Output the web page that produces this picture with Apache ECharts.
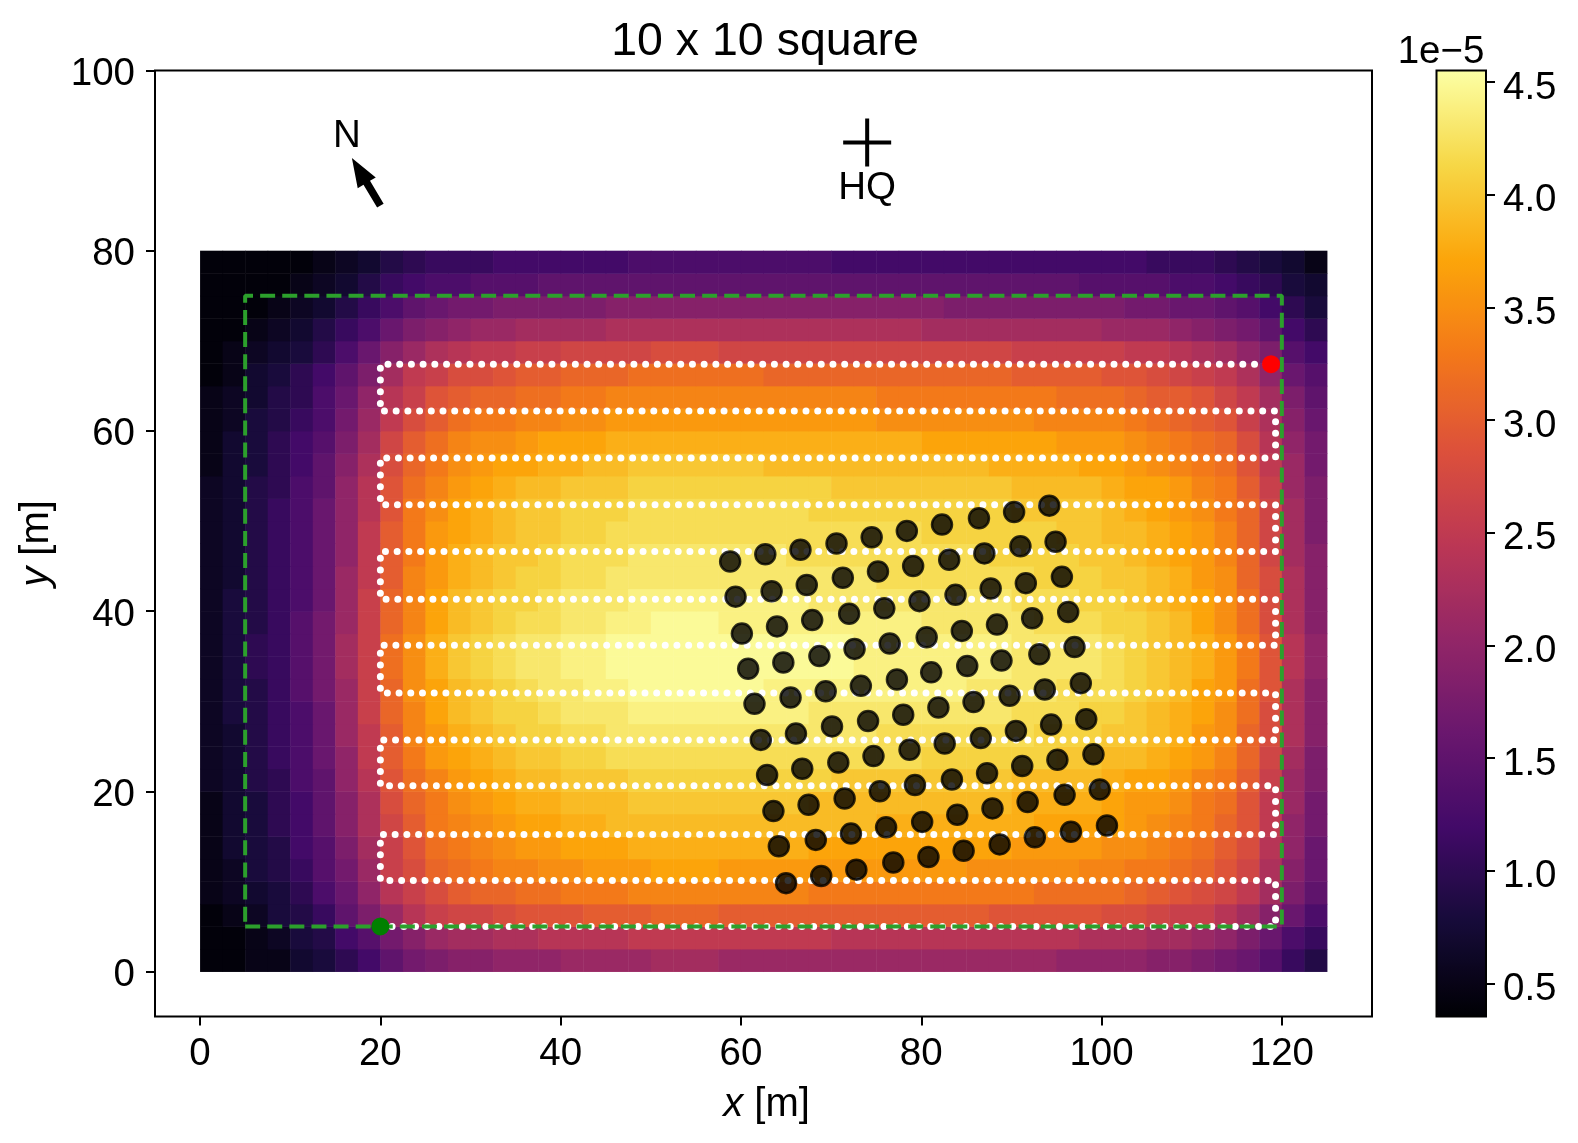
<!DOCTYPE html>
<html lang="en">
<head>
    <meta charset="utf-8">
    <title>10 x 10 square</title>
    <script src="https://cdn.jsdelivr.net/npm/echarts@6/dist/echarts.min.js"></script>
    <style>
        html, body { margin: 0; padding: 0; background: #fff; }
        #main { width: 1578px; height: 1143px; }
    </style>
</head>
<body>
<div id="main"></div>
<script>
// field, bottom row first, in tenths of 1e-5, 2.5 m cells
var fieldRows = [
[4,4,5,5,7,8,10,12,15,17,18,19,19,20,20,20,21,21,21,21,22,22,22,21,21,21,21,21,21,21,21,21,21,21,21,21,21,21,20,20,20,20,19,19,18,17,16,14,11,9],
[4,4,5,6,8,9,12,14,17,19,21,22,22,23,23,24,24,24,24,25,25,25,25,25,25,25,25,25,24,24,24,24,24,24,24,24,24,24,24,23,23,23,22,22,21,20,18,16,13,11],
[4,5,6,8,9,11,15,18,21,24,26,27,27,28,29,29,29,30,30,30,31,31,31,30,30,30,30,30,30,30,30,30,30,30,30,29,29,29,29,29,28,28,27,26,26,24,22,19,16,13],
[5,6,7,8,10,13,16,20,24,26,28,30,31,31,32,32,33,33,33,34,34,34,34,34,34,34,34,33,33,33,33,33,33,33,33,33,33,32,32,32,32,31,30,29,28,27,25,22,18,15],
[5,6,8,9,11,14,17,21,26,28,31,32,33,34,34,35,35,36,36,36,37,37,37,36,36,36,36,36,36,36,36,36,36,36,35,35,35,35,35,34,34,33,33,32,31,29,27,23,19,16],
[5,7,8,9,12,14,18,22,26,29,32,33,34,35,36,36,37,37,37,38,38,38,38,38,38,38,38,37,37,37,37,37,37,37,37,37,36,36,36,36,35,35,34,33,32,30,28,24,20,16],
[5,7,8,10,12,15,19,23,27,30,33,34,35,36,37,37,38,38,39,39,39,39,39,39,39,39,39,39,39,39,38,38,38,38,38,38,38,37,37,37,37,36,35,34,33,31,29,25,20,17],
[5,7,8,10,12,15,19,23,28,31,33,35,36,37,38,38,39,39,39,40,40,40,40,40,40,40,40,39,39,39,39,39,39,39,39,39,38,38,38,38,37,36,36,35,33,32,29,25,21,17],
[6,7,9,10,13,15,20,24,29,32,34,36,37,38,39,39,40,40,40,41,41,41,41,41,41,41,41,41,40,40,40,40,40,40,40,40,39,39,39,39,38,37,37,36,34,33,30,26,21,18],
[6,7,9,11,13,16,20,25,30,33,36,37,38,39,40,40,41,41,42,42,42,42,42,42,42,42,42,42,42,42,42,42,41,41,41,41,41,41,40,40,39,39,38,37,36,34,31,27,22,18],
[6,7,9,11,13,16,21,25,30,34,36,38,39,40,41,41,42,42,43,43,43,43,43,43,43,43,43,43,43,43,42,42,42,42,42,42,42,41,41,41,40,40,39,38,36,35,31,28,23,19],
[6,8,9,11,13,16,21,26,31,34,37,39,40,41,41,42,43,43,43,44,44,44,44,44,44,44,44,43,43,43,43,43,43,43,43,43,42,42,42,41,41,40,39,38,37,35,32,28,23,19],
[6,8,9,11,14,17,21,26,31,35,37,39,40,41,42,43,43,44,44,45,45,45,45,45,45,44,44,44,44,44,44,44,44,44,43,43,43,43,42,42,42,41,40,39,37,36,32,29,23,19],
[6,8,10,11,14,17,22,26,32,35,38,40,41,42,43,43,44,44,45,45,45,45,45,45,45,45,45,45,45,44,44,44,44,44,44,44,43,43,43,43,42,41,40,39,38,36,33,29,24,20],
[6,8,10,11,14,17,22,26,32,35,38,40,41,42,43,43,44,44,45,45,45,45,45,45,45,45,45,45,45,44,44,44,44,44,44,44,43,43,43,43,42,41,40,39,38,36,33,29,24,20],
[6,8,9,11,14,17,21,26,31,34,37,39,40,41,42,42,43,43,44,44,45,45,45,44,44,44,44,44,44,44,44,44,43,43,43,43,43,42,42,42,41,41,40,39,37,35,32,28,23,19],
[6,8,9,11,13,16,21,26,31,34,37,39,40,41,41,42,43,43,43,44,44,44,44,44,44,44,44,43,43,43,43,43,43,43,43,43,42,42,42,41,41,40,39,38,37,35,32,28,23,19],
[6,7,9,11,13,16,21,25,30,34,36,38,39,40,41,41,42,42,43,43,43,43,43,43,43,43,43,43,43,43,42,42,42,42,42,42,42,41,41,41,40,40,39,38,36,35,31,28,23,19],
[6,7,9,11,13,16,20,25,30,33,36,38,39,40,40,41,42,42,42,43,43,43,43,43,43,43,42,42,42,42,42,42,42,42,42,41,41,41,41,40,40,39,38,37,36,34,31,27,22,19],
[6,7,9,11,13,16,20,25,30,33,36,37,38,39,40,40,41,41,42,42,42,42,42,42,42,42,42,42,42,42,42,42,41,41,41,41,41,41,40,40,39,39,38,37,36,34,31,27,22,18],
[6,7,9,11,13,16,20,24,29,33,35,37,38,39,40,40,41,41,41,42,42,42,42,42,42,42,42,41,41,41,41,41,41,41,41,41,40,40,40,40,39,38,37,36,35,33,31,27,22,18],
[6,7,9,10,13,15,20,24,29,32,34,36,37,38,39,39,40,40,40,41,41,41,41,41,41,41,41,41,40,40,40,40,40,40,40,40,39,39,39,39,38,37,37,36,34,33,30,26,21,18],
[5,7,8,10,12,15,19,23,28,31,33,35,36,37,37,38,38,39,39,40,40,40,40,40,40,39,39,39,39,39,39,39,39,39,39,38,38,38,38,37,37,36,35,34,33,32,29,25,21,17],
[5,7,8,10,12,14,18,22,27,30,32,34,35,35,36,37,37,37,38,38,38,38,38,38,38,38,38,38,38,38,38,38,37,37,37,37,37,37,36,36,36,35,34,33,32,31,28,24,20,17],
[5,6,8,9,11,13,17,21,25,28,30,32,33,33,34,34,35,35,36,36,36,36,36,36,36,36,36,36,36,36,35,35,35,35,35,35,35,34,34,34,34,33,32,31,30,29,26,23,19,16],
[5,6,7,9,10,13,16,20,24,26,29,30,31,31,32,32,33,33,34,34,34,34,34,34,34,34,34,34,34,34,33,33,33,33,33,33,33,33,32,32,32,31,30,30,29,27,25,22,18,15],
[4,5,7,8,10,12,15,18,22,25,26,28,28,29,30,30,31,31,31,32,32,32,32,32,32,31,31,31,31,31,31,31,31,31,31,31,30,30,30,30,29,29,28,27,26,25,23,20,16,14],
[4,5,6,7,8,10,13,16,19,21,23,24,25,25,26,26,27,27,27,27,28,28,28,27,27,27,27,27,27,27,27,27,27,27,27,27,26,26,26,26,26,25,25,24,23,22,20,18,14,12],
[4,4,5,6,7,9,11,13,16,18,19,20,21,21,22,22,22,22,23,23,23,23,23,23,23,23,23,23,23,23,23,23,22,22,22,22,22,22,22,22,21,21,21,20,19,18,17,15,12,10],
[4,4,4,5,6,7,9,11,13,15,16,17,17,18,18,18,18,18,19,19,19,19,19,19,19,19,19,19,19,19,19,19,19,18,18,18,18,18,18,18,18,17,17,16,16,15,14,12,10,8],
[4,4,4,4,5,6,7,9,11,12,13,13,14,14,14,15,15,15,15,15,15,15,15,15,15,15,15,15,15,15,15,15,15,15,15,15,15,15,15,14,14,14,14,13,13,12,11,10,8,7],
[4,4,4,4,4,5,6,7,9,10,11,11,11,12,12,12,12,12,12,13,13,13,13,13,13,13,13,13,12,12,12,12,12,12,12,12,12,12,12,12,12,12,11,11,11,10,9,8,7,5]
];
var cellSize = 2.5;

// survey path, corners only
var pathX = [20, 119.3, 119.3, 20, 20, 119.3, 119.3, 20, 20, 119.3, 119.3, 20, 20, 119.3, 119.3, 20, 20, 119.3, 119.3, 20, 20, 119.3, 119.3, 20, 20, 118.8];
var pathY = [5, 5, 10.1, 10.1, 15.2, 15.2, 20.6, 20.6, 25.7, 25.7, 30.9, 30.9, 36.2, 36.2, 41.3, 41.3, 46.6, 46.6, 51.8, 51.8, 57, 57, 62.2, 62.2, 67.4, 67.4];

// boundary
var boxX = [5, 120, 120, 5, 5];
var boxY = [5, 5, 75, 75, 5];

// turbines
var blackX = [
65.0,68.9,72.8,76.9,80.8,84.7,88.7,92.6,96.6,100.6,
64.2,68.3,72.2,76.1,80.1,84.0,87.9,91.8,95.9,99.8,
63.6,67.5,71.5,75.4,79.3,83.4,87.3,91.2,95.1,99.1,
62.9,66.8,70.8,74.7,78.7,82.6,86.6,90.5,94.4,98.3,
62.2,66.1,70.1,74.1,78.0,81.9,85.8,89.8,93.7,97.7,
61.5,65.5,69.4,73.3,77.3,81.1,85.1,88.9,93.1,97.0,
60.8,64.7,68.7,72.6,76.5,80.6,84.5,88.4,92.3,96.3,
60.1,64.0,67.9,72.0,75.9,79.8,83.8,87.7,91.6,95.6,
59.4,63.4,67.3,71.3,75.2,79.1,83.1,87.0,91.0,94.9,
58.8,62.7,66.6,70.6,74.5,78.4,82.3,86.4,90.3,94.2
];
var blackY = [
9.8,10.6,11.3,12.1,12.7,13.4,14.1,14.9,15.5,16.2,
13.9,14.6,15.3,16.0,16.6,17.4,18.1,18.8,19.6,20.2,
17.8,18.5,19.2,20.0,20.7,21.3,22.0,22.8,23.5,24.1,
21.8,22.5,23.2,23.9,24.6,25.3,25.9,26.7,27.4,28.0,
25.7,26.4,27.2,27.8,28.5,29.3,29.9,30.6,31.3,32.0,
29.7,30.4,31.1,31.7,32.4,33.2,33.9,34.5,35.2,36.0,
33.6,34.3,35.0,35.8,36.4,37.1,37.8,38.5,39.2,39.9,
37.5,38.3,39.0,39.7,40.3,41.1,41.8,42.5,43.1,43.8,
41.6,42.2,42.9,43.7,44.4,45.0,45.7,46.4,47.2,47.7,
45.5,46.3,46.8,47.5,48.2,48.9,49.6,50.3,51.0,51.7
];

var startPoint = [20, 5];
var endPoint = [118.8, 67.4];
var hqPoint = [74, 92];
var hqLabelPoint = [74, 86.9];
var northLabelPoint = [16.3, 92.7];
var northArrow = [20, 85, 16.84, 90.3];

var xTicks = [0, 20, 40, 60, 80, 100, 120];
var yTicks = [0, 20, 40, 60, 80, 100];
var barTicks = [0.5, 1, 1.5, 2, 2.5, 3, 3.5, 4, 4.5];
var barMin = 0.353;
var barMax = 4.552;
var inferno = ['#000004', '#160b39', '#420a68', '#6a176e', '#932667', '#bc3754', '#dd513a', '#f37819', '#fca50a', '#f6d746', '#fcffa4'];

var FONT = '"Liberation Sans", Arial, sans-serif';

function zip(xs, ys) {
    return xs.map(function (x, i) { return [x, ys[i]]; });
}

var heatData = [];
fieldRows.forEach(function (row, r) {
    row.forEach(function (v, c) {
        heatData.push([c * cellSize, r * cellSize, v / 10]);
    });
});

function renderCell(params, api) {
    var x0 = api.value(0), y0 = api.value(1);
    var a = api.coord([x0, y0]);
    var b = api.coord([x0 + cellSize, y0 + cellSize]);
    return {
        type: 'rect',
        shape: { x: a[0], y: b[1], width: b[0] - a[0] + 0.5, height: a[1] - b[1] + 0.5 },
        style: { fill: api.visual('color') }
    };
}

function renderArrow(params, api) {
    var tail = api.coord([api.value(0), api.value(1)]);
    var tip = api.coord([api.value(2), api.value(3)]);
    var dx = tip[0] - tail[0], dy = tip[1] - tail[1];
    var len = Math.sqrt(dx * dx + dy * dy);
    var ux = dx / len, uy = dy / len, nx = -uy, ny = ux;
    var shaft = 3.8, head = 10.5, headLen = 29;
    var bx = tip[0] - ux * headLen, by = tip[1] - uy * headLen;
    return {
        type: 'polygon',
        shape: { points: [
            [tail[0] + nx * shaft, tail[1] + ny * shaft],
            [bx + nx * shaft, by + ny * shaft],
            [bx + nx * head, by + ny * head],
            tip,
            [bx - nx * head, by - ny * head],
            [bx - nx * shaft, by - ny * shaft],
            [tail[0] - nx * shaft, tail[1] - ny * shaft]
        ] },
        style: { fill: '#000' }
    };
}

function textPoint(point, text) {
    return {
        type: 'scatter', data: [point], symbolSize: 0, silent: true, z: 6,
        itemStyle: { opacity: 1 },
        label: {
            show: true, position: 'inside', formatter: text,
            fontFamily: FONT, fontSize: 38.5, color: '#000'
        }
    };
}

var mCharts = echarts.init(document.getElementById('main'));
var option = {
    animation: false,
    backgroundColor: '#fff',
    title: [
        { text: '10 x 10 square', left: 760, top: 14, textAlign: 'center',
          textStyle: { fontFamily: FONT, fontSize: 46.5, fontWeight: 'normal', color: '#000' } },
        { text: '1e\u22125', left: 1436, top: 28, textAlign: 'center',
          textStyle: { fontFamily: FONT, fontSize: 38.5, fontWeight: 'normal', color: '#000' } }
    ],
    grid: [
        { left: 155, top: 70.5, width: 1217, height: 946, show: true, borderColor: '#000', borderWidth: 2, backgroundColor: 'transparent' },
        { left: 1436.5, top: 70.5, width: 49.5, height: 946, show: true, borderColor: '#000', borderWidth: 2, backgroundColor: 'transparent', z: 10 }
    ],
    xAxis: [
        {
            type: 'value', min: -5, max: 130, gridIndex: 0,
            name: '{i|x} [m]', nameLocation: 'middle', nameGap: 68,
            nameTextStyle: { fontFamily: FONT, fontSize: 40, color: '#000', padding: [0, 0, 0, 6],
                rich: { i: { fontFamily: FONT, fontSize: 40, fontStyle: 'italic', color: '#000' } } },
            splitLine: { show: false },
            axisLine: { show: false, onZero: false },
            axisTick: { show: true, length: 9, lineStyle: { color: '#000', width: 2 }, customValues: xTicks },
            axisLabel: { show: true, margin: 18, fontFamily: FONT, fontSize: 38.5, color: '#000', customValues: xTicks }
        },
        { type: 'value', min: 0, max: 1, gridIndex: 1, show: false }
    ],
    yAxis: [
        {
            type: 'value', min: -5, max: 100, gridIndex: 0,
            name: '{i|y} [m]', nameLocation: 'middle', nameGap: 98, nameRotate: 90,
            nameTextStyle: { fontFamily: FONT, fontSize: 40, color: '#000',
                rich: { i: { fontFamily: FONT, fontSize: 40, fontStyle: 'italic', color: '#000' } } },
            splitLine: { show: false },
            axisLine: { show: false, onZero: false },
            axisTick: { show: true, length: 9, lineStyle: { color: '#000', width: 2 }, customValues: yTicks },
            axisLabel: { show: true, margin: 20, fontFamily: FONT, fontSize: 38.5, color: '#000', customValues: yTicks, verticalAlign: 'top', lineHeight: 8 }
        },
        {
            type: 'value', min: barMin, max: barMax, gridIndex: 1, position: 'right',
            splitLine: { show: false },
            axisLine: { show: false, onZero: false },
            axisTick: { show: true, length: 9, lineStyle: { color: '#000', width: 2 }, customValues: barTicks },
            axisLabel: { show: true, margin: 17, fontFamily: FONT, fontSize: 38.5, color: '#000', customValues: barTicks, verticalAlign: 'top', lineHeight: 12,
                formatter: function (v) { return v.toFixed(1); } }
        }
    ],
    visualMap: {
        type: 'continuous', seriesIndex: 0, dimension: 2, min: barMin, max: barMax,
        left: 1436.5, top: 70.5, itemWidth: 49.5, itemHeight: 946, padding: 0,
        calculable: false, showLabel: false, text: null, hoverLink: false, z: 1,
        inRange: { color: inferno }
    },
    series: [
        { type: 'custom', data: heatData, renderItem: renderCell, encode: { x: 0, y: 1 }, silent: true, z: 1 },
        { type: 'line', data: zip(pathX, pathY), showSymbol: false, silent: true, z: 2,
          lineStyle: { color: '#fff', width: 7, type: [0.01, 11.7], cap: 'round' } },
        { type: 'scatter', data: zip(blackX, blackY), symbolSize: 20, silent: true, z: 3,
          itemStyle: { opacity: 1, color: 'rgba(0,0,0,0.8)', borderColor: 'rgba(0,0,0,0.8)', borderWidth: 2.5 } },
        { type: 'line', data: zip(boxX, boxY), showSymbol: false, silent: true, z: 4,
          lineStyle: { color: '#2ca02c', width: 4, type: [15, 7.1] } },
        { type: 'scatter', data: [startPoint], symbolSize: 18, silent: true, z: 5, itemStyle: { opacity: 1, color: '#008000' } },
        { type: 'scatter', data: [endPoint], symbolSize: 18, silent: true, z: 5, itemStyle: { opacity: 1, color: '#ff0000' } },
        { type: 'scatter', data: [hqPoint], silent: true, z: 6, symbolSize: 48,
          symbol: 'path://M22 0H26V22H48V26H26V48H22V26H0V22H22Z', itemStyle: { opacity: 1, color: '#000' } },
        textPoint(hqLabelPoint, 'HQ'),
        textPoint(northLabelPoint, 'N'),
        { type: 'custom', data: [northArrow], renderItem: renderArrow, encode: { x: [0, 2], y: [1, 3] }, silent: true, z: 6 }
    ]
};
mCharts.setOption(option);
</script>
</body>
</html>
